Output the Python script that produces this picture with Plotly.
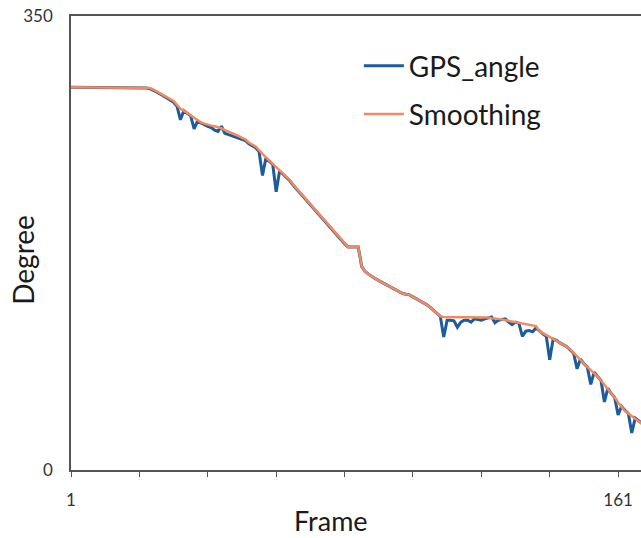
import plotly.graph_objects as go

frames = list(range(1, 169))

gps_angle = [
    295, 295, 295, 295, 295, 295, 295, 295, 295, 295,
    295, 295, 295, 295, 295, 295, 295, 295, 295, 295,
    295, 295, 294.5, 294, 293, 291.5, 290, 288.5, 287, 285.5,
    283.5, 280.5, 270, 277, 275, 273, 263, 269, 267.5, 266,
    265, 264, 262, 261, 265, 259.5, 258.5, 257.5, 256.5, 256,
    255, 254, 251.5, 250, 248.5, 245.5, 227, 240.5, 238, 235.5,
    214.5, 230.5, 228, 225.5, 223, 219.5, 216.5, 213.5, 210, 207,
    204.5, 201.5, 198.5, 195.5, 192.5, 189.5, 186.5, 183.5, 180.5, 177.5,
    174.5, 172, 172, 172, 172, 157, 153, 151, 149, 147.5,
    146, 144.5, 143, 141.5, 140, 138.5, 137, 136, 135.5, 135,
    133.5, 132, 131, 129, 127.5, 125.5, 123, 120.5, 118.5, 102.5,
    115.5, 115.5, 115, 110, 114, 115.5, 115.5, 114, 116.5, 116,
    115.5, 116.5, 117, 118, 113.5, 115.5, 116, 116.5, 114, 112,
    114, 113, 103, 107, 107.5, 106.5, 109.5, 107, 105, 103,
    85, 101, 100, 98, 96.5, 95, 92.5, 90, 78, 85.5,
    82, 79.5, 66, 75.5, 72, 69, 52.5, 63, 59, 56,
    42.5, 49, 46, 43.5, 28.5, 40, 38, 36,
]

smoothing = [
    295, 295, 295, 295, 295, 295, 295, 295, 295, 295,
    295, 295, 295, 295, 295, 295, 295, 295, 295, 295,
    295, 295, 295, 294.5, 293.5, 292, 290.5, 289, 287.5, 286,
    284.5, 281.5, 278.5, 277, 275.5, 273.5, 271.5, 269.5, 268, 267,
    266, 265.5, 265, 264.5, 263.5, 262, 261, 260, 258.5, 257.5,
    256, 255, 252.5, 251, 249.5, 246.5, 243.5, 241, 238.5, 236,
    233, 231, 228.5, 226, 223.5, 220, 217, 214, 210.5, 207.5,
    205, 202, 199, 196, 193, 190, 187, 184, 181, 178,
    175, 172, 172, 172, 172, 157, 153, 151, 149, 147.5,
    146, 144.5, 143, 141.5, 140, 138.5, 137, 136, 135.5, 135,
    133.5, 132, 131, 129, 127.5, 125.5, 123, 120.5, 118.5, 118,
    118, 118, 118, 118, 118, 118, 118, 117.5, 117.5, 117.5,
    117.5, 117.5, 117.5, 117, 117, 116.5, 116, 115.5, 115, 114.5,
    114, 113.5, 113, 112.5, 112, 111.5, 111, 107, 105.5, 104,
    103, 101.5, 100, 98, 96.5, 95, 93, 90.5, 88, 85,
    82, 79.5, 77, 75, 72, 69, 66, 62.5, 59, 56,
    52, 48.5, 45.5, 43.5, 41.5, 39.5, 37.5, 35.5,
]

x_tick_vals = [1, 21, 41, 61, 81, 101, 121, 141, 161]
x_tick_text = ["1", "", "", "", "", "", "", "", "161"]
y_tick_vals = [0, 350]
y_tick_text = ["0", "350"]

FONT = "Lato"

fig = go.Figure()
fig.add_trace(go.Scatter(
    x=frames, y=gps_angle, mode="lines", name="GPS_angle",
    legendgroup="a",
    line=dict(color="#1B5C9C", width=3),
))
fig.add_trace(go.Scatter(
    x=frames, y=smoothing, mode="lines", name="Smoothing",
    legendgroup="b",
    line=dict(color="#F4885E", width=2.5),
))

fig.update_layout(
    width=641, height=538,
    margin=dict(l=71, r=0, t=16, b=68),
    paper_bgcolor="white", plot_bgcolor="white",
    font=dict(family=FONT, color="#1a1a1a"),
    showlegend=True,
    legend=dict(
        x=0.505, y=0.945, xanchor="left", yanchor="top",
        font=dict(family=FONT, size=28, color="#1a1a1a"),
        bgcolor="rgba(0,0,0,0)",
        traceorder="grouped", tracegroupgap=9,
        itemwidth=40,
    ),
    xaxis=dict(
        range=[1, 167.7],
        tickmode="array", tickvals=x_tick_vals, ticktext=x_tick_text,
        ticks="outside", ticklen=5, tickwidth=1, tickcolor="#555555",
        ticklabelstandoff=9,
        showline=True, linecolor="#555555", linewidth=1.5, mirror=True,
        showgrid=False, zeroline=False,
        tickfont=dict(family=FONT, size=17, color="#333333"),
    ),
    yaxis=dict(
        range=[0, 350],
        tickmode="array", tickvals=y_tick_vals, ticktext=y_tick_text,
        ticks="outside", ticklen=13, tickcolor="rgba(0,0,0,0)",
        showline=True, linecolor="#555555", linewidth=1.5,
        showgrid=False, zeroline=False,
        tickfont=dict(family=FONT, size=17, color="#333333"),
    ),
    annotations=[
        dict(text="Frame", xref="paper", yref="paper", x=0.456, y=-0.111,
             xanchor="center", yanchor="middle", showarrow=False,
             font=dict(family=FONT, size=27, color="#1a1a1a")),
        dict(text="Degree", xref="paper", yref="paper", x=-0.0845, y=0.4626,
             xanchor="center", yanchor="middle", showarrow=False, textangle=-90,
             font=dict(family=FONT, size=28, color="#1a1a1a")),
    ],
)

fig.write_html("out.html")
